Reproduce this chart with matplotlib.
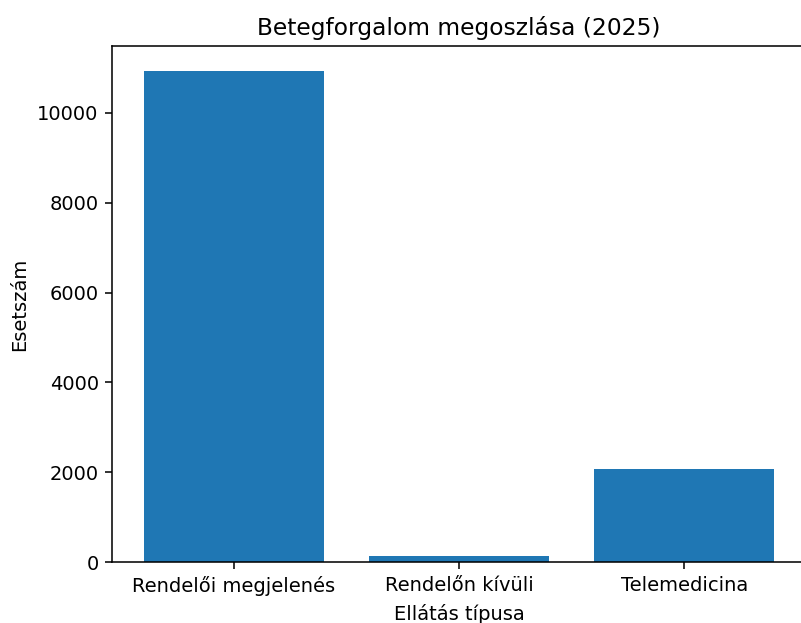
import matplotlib
matplotlib.use("Agg")
import matplotlib.pyplot as plt


# =========================
# DATA
# =========================
categories = ["Rendelői megjelenés", "Rendelőn kívüli", "Telemedicina"]
cases = [10930, 140, 2065]


# =========================
# FIGURE
# =========================
DPI = 140
W, H = 801, 623
fig = plt.figure(figsize=(W / DPI, H / DPI), dpi=DPI)

# axes box in pixels; the right edge sits past the image border,
# so the right spine is cut off in the reference
left, right, bottom, top = 112.3, 806.0, 562.3, 46.3
ax = fig.add_axes([left / W, (H - bottom) / H, (right - left) / W, (bottom - top) / H])

ax.bar(categories, cases, color="#1f77b4")
ax.set_title("Betegforgalom megoszlása (2025)")
ax.set_xlabel("Ellátás típusa")
ax.set_ylabel("Esetszám")
ax.spines["right"].set_visible(False)

fig.savefig("out.png", dpi=DPI)
